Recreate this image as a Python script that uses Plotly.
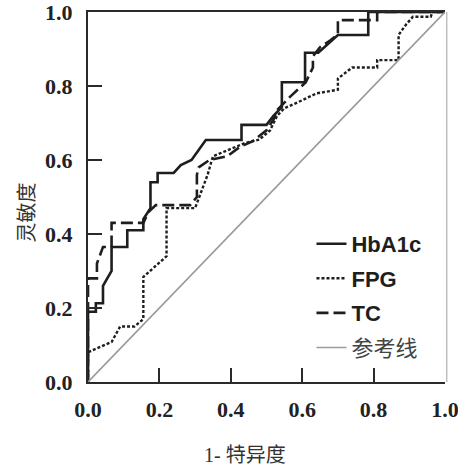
import plotly.graph_objects as go

# ---- data ----
series_names = ["HbA1c", "FPG", "TC", "参考线"]

hba1c_x = [0, 0, 0.022, 0.022, 0.042, 0.042, 0.066, 0.066, 0.11, 0.11, 0.155, 0.155, 0.175, 0.175,
           0.195, 0.195, 0.24, 0.26, 0.29, 0.33, 0.43, 0.43, 0.50, 0.52, 0.543, 0.543, 0.608, 0.608,
           0.645, 0.70, 0.785, 0.785, 1.0]
hba1c_y = [0, 0.19, 0.19, 0.213, 0.213, 0.26, 0.30, 0.365, 0.365, 0.41, 0.41, 0.44, 0.47, 0.54,
           0.54, 0.565, 0.565, 0.586, 0.60, 0.654, 0.654, 0.695, 0.695, 0.72, 0.743, 0.81, 0.81, 0.89,
           0.89, 0.938, 0.938, 1.0, 1.0]

fpg_x = [0, 0, 0.022, 0.066, 0.09, 0.13, 0.155, 0.155, 0.22, 0.22, 0.30, 0.32, 0.335, 0.35, 0.40,
         0.44, 0.48, 0.51, 0.53, 0.55, 0.59, 0.64, 0.70, 0.70, 0.74, 0.81, 0.81, 0.87, 0.87, 0.89,
         0.91, 0.96, 0.965, 1.0]
fpg_y = [0, 0.08, 0.09, 0.108, 0.15, 0.15, 0.17, 0.284, 0.34, 0.47, 0.47, 0.52, 0.56, 0.61, 0.63,
         0.646, 0.655, 0.68, 0.72, 0.74, 0.757, 0.78, 0.79, 0.82, 0.85, 0.85, 0.87, 0.87, 0.938, 0.965,
         0.987, 0.987, 1.0, 1.0]

tc_x = [0, 0, 0.025, 0.025, 0.042, 0.066, 0.066, 0.155, 0.17, 0.19, 0.286, 0.305, 0.305, 0.31,
        0.34, 0.39, 0.425, 0.46, 0.50, 0.52, 0.53, 0.565, 0.61, 0.63, 0.63, 0.65, 0.68, 0.70, 0.70,
        0.81, 0.81, 1.0]
tc_y = [0, 0.28, 0.28, 0.32, 0.365, 0.365, 0.43, 0.43, 0.46, 0.478, 0.478, 0.50, 0.56, 0.58,
        0.60, 0.61, 0.635, 0.65, 0.68, 0.71, 0.735, 0.77, 0.81, 0.85, 0.88, 0.905, 0.924, 0.94, 0.978,
        0.978, 1.0, 1.0]

ref_x = [0, 1]
ref_y = [0, 1]

tick_vals = [0.0, 0.2, 0.4, 0.6, 0.8, 1.0]
tick_text = ["0.0", "0.2", "0.4", "0.6", "0.8", "1.0"]
x_title = "1- 特异度"
y_title = "灵敏度"

SERIF = "Liberation Serif"

# ---- figure ----
fig = go.Figure()
fig.add_trace(go.Scatter(x=hba1c_x, y=hba1c_y, mode="lines", name="<b>" + series_names[0] + "</b>",
                         legendgroup="a", line=dict(color="#1e1e1e", width=2.6)))
fig.add_trace(go.Scatter(x=fpg_x, y=fpg_y, mode="lines", name="<b>" + series_names[1] + "</b>",
                         legendgroup="b", line=dict(color="#1e1e1e", width=2.4, dash="3px,2px")))
fig.add_trace(go.Scatter(x=tc_x, y=tc_y, mode="lines", name="<b>" + series_names[2] + "</b>",
                         legendgroup="c", line=dict(color="#1e1e1e", width=2.6, dash="12px,5px")))
fig.add_trace(go.Scatter(x=ref_x, y=ref_y, mode="lines",
                         name="<span style='color:#444'>" + series_names[3] + "</span>",
                         legendgroup="d", line=dict(color="#9a9a9a", width=1.6)))

axis_common = dict(
    range=[0, 1], tickvals=tick_vals, ticktext=["<b>" + t + "</b>" for t in tick_text],
    ticks="inside", ticklen=14, tickwidth=2, tickcolor="#2a2a2a",
    showline=True, linecolor="#2a2a2a", linewidth=2.2,
    showgrid=False, zeroline=False, automargin=False,
    ticklabeloverflow="allow",
    tickfont=dict(family=SERIF, size=22, color="#222"),
)

fig.update_xaxes(**axis_common, mirror=True, ticklabelstandoff=6)
fig.update_yaxes(**axis_common, ticklabelstandoff=9)

fig.update_layout(
    width=458, height=470,
    margin=dict(l=88, r=13, t=12, b=88, autoexpand=False),
    plot_bgcolor="white", paper_bgcolor="white",
    showlegend=True,
    legend=dict(
        x=0.626, y=0.43, xanchor="left", yanchor="top",
        bgcolor="rgba(0,0,0,0)", borderwidth=0,
        font=dict(family="Liberation Sans, Noto Sans CJK SC", size=22, color="#1e1e1e"),
        tracegroupgap=3, itemwidth=30,
    ),
    shapes=[dict(type="line", xref="paper", yref="paper", x0=1.005, x1=1.005, y0=0, y1=1,
                 line=dict(color="#b0b0b0", width=1.2))],
    annotations=[
        dict(text=x_title, xref="paper", yref="paper", x=0.44, y=-0.197,
             xanchor="center", yanchor="middle", showarrow=False,
             font=dict(family=SERIF + ", Noto Sans CJK SC", size=20, color="#333")),
        dict(text=y_title, xref="paper", yref="paper", x=-0.172, y=0.457,
             xanchor="center", yanchor="middle", showarrow=False, textangle=-90,
             font=dict(family=SERIF + ", Noto Sans CJK SC", size=20, color="#333")),
    ],
)

fig.write_html("out.html", config={"displayModeBar": False},
               post_script="document.body.style.margin='0px';")
